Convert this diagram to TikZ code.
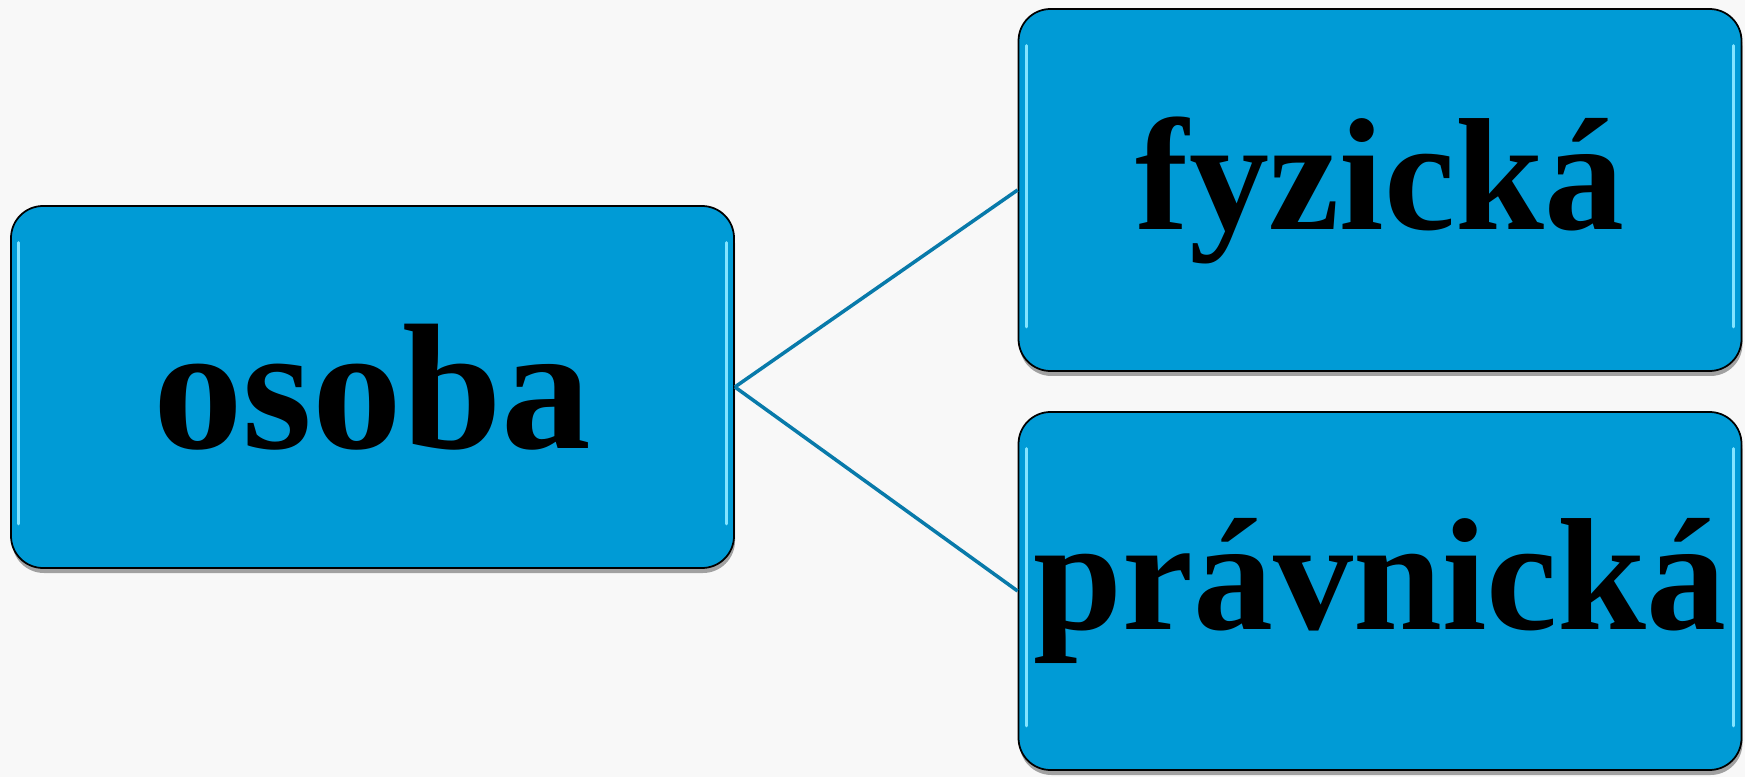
\documentclass[tikz,border=0pt]{standalone}
\usepackage{fontspec}
\setmainfont{Liberation Serif}
\usetikzlibrary{shadows}
\definecolor{boxblue}{RGB}{0,155,214}
\definecolor{linkblue}{RGB}{8,122,170}
\definecolor{glint}{RGB}{130,228,255}
\definecolor{paper}{RGB}{248,248,248}

\begin{document}
\begin{tikzpicture}[
  box/.style={draw=black, line width=1pt, fill=boxblue, rounded corners=0.64cm,
    minimum width=14.46cm, minimum height=7.24cm, inner sep=0pt,
    font=\fontsize{91}{91}\selectfont\bfseries,
    drop shadow={shadow xshift=0.02cm, shadow yshift=-0.1cm, opacity=0.35, fill=black}},
  link/.style={draw=linkblue, line width=2pt},
  shine/.style={draw=glint, line width=1.8pt, line cap=round}]
  % background
  \fill[paper] (0,0) rectangle (34.9,-15.54);
  \useasboundingbox (0,0) rectangle (34.9,-15.54);
  % the three boxes
  \node[box, font=\fontsize{102}{102}\selectfont\bfseries] (osoba) at (7.45,-7.74) {osoba};
  \node[box] (fyzicka) at (27.6,-3.8) {fyzická};
  \node[box, minimum height=7.16cm] (pravnicka) at (27.6,-11.82) {právnická};
  % links from osoba
  \draw[link] (osoba.east) -- (fyzicka.west);
  \draw[link] (osoba.east) -- (pravnicka.west);
  % glossy inner edges
  \foreach \b in {osoba,fyzicka,pravnicka} {
    \draw[shine] ([xshift=0.17cm,yshift=-0.75cm]\b.north west) -- ([xshift=0.17cm,yshift=0.9cm]\b.south west);
    \draw[shine] ([xshift=-0.17cm,yshift=-0.75cm]\b.north east) -- ([xshift=-0.17cm,yshift=0.9cm]\b.south east);
  }
\end{tikzpicture}
\end{document}
